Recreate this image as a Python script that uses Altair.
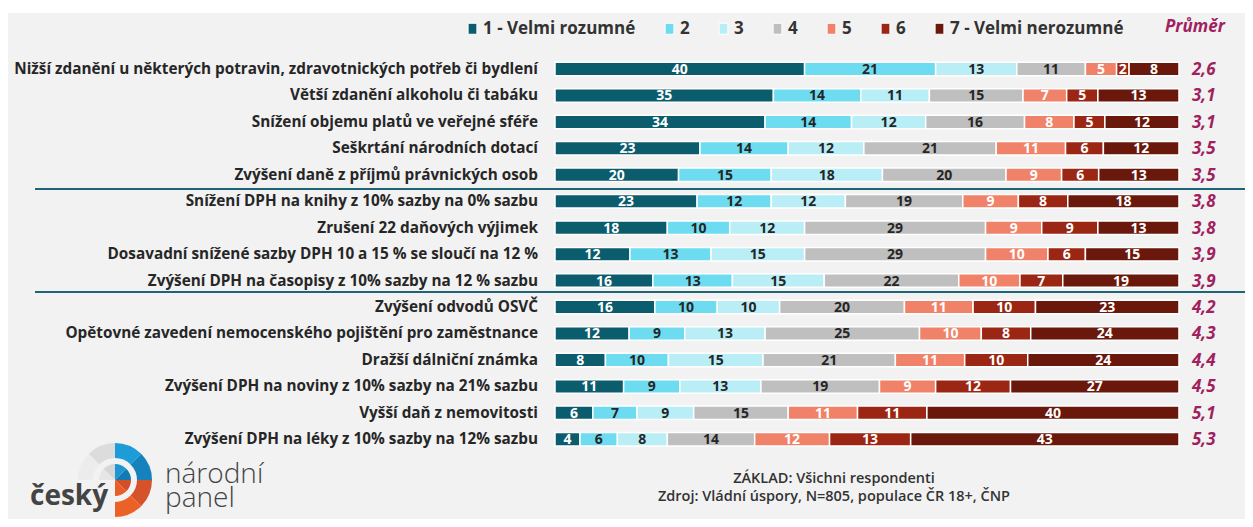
import math
import altair as alt
import pandas as pd

# ---------------- data ----------------
labels = [
    "Nižší zdanění u některých potravin, zdravotnických potřeb či bydlení",
    "Větší zdanění alkoholu či tabáku",
    "Snížení objemu platů ve veřejné sféře",
    "Seškrtání národních dotací",
    "Zvýšení daně z příjmů právnických osob",
    "Snížení DPH na knihy z 10% sazby na 0% sazbu",
    "Zrušení 22 daňových výjimek",
    "Dosavadní snížené sazby DPH 10 a 15 % se sloučí na 12 %",
    "Zvýšení DPH na časopisy z 10% sazby na 12 % sazbu",
    "Zvýšení odvodů OSVČ",
    "Opětovné zavedení nemocenského pojištění pro zaměstnance",
    "Dražší dálniční známka",
    "Zvýšení DPH na noviny z 10% sazby na 21% sazbu",
    "Vyšší daň z nemovitosti",
    "Zvýšení DPH na léky z 10% sazby na 12% sazbu",
]
categories = ["1 - Velmi rozumné", "2", "3", "4", "5", "6", "7 - Velmi nerozumné"]
v1 = [40, 35, 34, 23, 20, 23, 18, 12, 16, 16, 12, 8, 11, 6, 4]
v2 = [21, 14, 14, 14, 15, 12, 10, 13, 13, 10, 9, 10, 9, 7, 6]
v3 = [13, 11, 12, 12, 18, 12, 12, 15, 15, 10, 13, 15, 13, 9, 8]
v4 = [11, 15, 16, 21, 20, 19, 29, 29, 22, 20, 25, 21, 19, 15, 14]
v5 = [5, 7, 8, 11, 9, 9, 9, 10, 10, 11, 10, 11, 9, 11, 12]
v6 = [2, 5, 5, 6, 6, 8, 9, 6, 7, 10, 8, 10, 12, 11, 13]
v7 = [8, 13, 12, 12, 13, 18, 13, 15, 19, 23, 24, 24, 27, 40, 43]
means = [2.6, 3.1, 3.1, 3.5, 3.5, 3.8, 3.8, 3.9, 3.9, 4.2, 4.3, 4.4, 4.5, 5.1, 5.3]

colors = ["#0b5c6c", "#6edcf0", "#b9eef7", "#bfbfbf", "#f08269", "#9b2613", "#69180b"]
text_colors = ["#ffffff", "#262626", "#262626", "#262626", "#ffffff", "#ffffff", "#ffffff"]

series = [v1, v2, v3, v4, v5, v6, v7]
rows = []
for ci, (cat, vals) in enumerate(zip(categories, series)):
    for lab, v in zip(labels, vals):
        rows.append({"label": lab, "cat": cat, "order": ci, "value": v,
                     "tc": text_colors[ci]})
df = pd.DataFrame(rows)
df_rows = pd.DataFrame({"label": labels, "mean": means})
one = pd.DataFrame({"a": [0]})

FONT = "Open Sans"
MEAN_COLOR = "#a0215d"
W, H = 1237, 511

yenc = alt.Y("label:N", sort=labels, axis=None,
             scale=alt.Scale(range=[47.8, 444.5], paddingInner=0.49, paddingOuter=0.245))
xscale = alt.Scale(domain=[0, 1], range=[547, 1171])

base = alt.Chart(df).transform_stack(
    stack="value", as_=["x0", "x1"], groupby=["label"],
    sort=[alt.SortField("order", order="ascending")], offset="normalize"
).transform_calculate(mid="(datum.x0 + datum.x1) / 2")

bg = alt.Chart(one).mark_rect(color="#f2f2f2").encode(
    x=alt.value(0), x2=alt.value(W), y=alt.value(5), y2=alt.value(H))

bars = base.mark_bar(stroke="white", strokeWidth=1.5).encode(
    x=alt.X("x0:Q", scale=xscale, axis=None),
    x2="x1:Q",
    y=yenc,
    color=alt.Color("cat:N", scale=alt.Scale(domain=categories, range=colors),
                    legend=alt.Legend(title=None, orient="none", direction="horizontal",
                                      columns=7, legendX=456, legendY=12)),
)

vals_txt = base.mark_text(font=FONT, fontWeight="bold", fontSize=14, baseline="middle", dy=1).encode(
    x=alt.X("mid:Q", scale=xscale, axis=None),
    y=yenc,
    text="value:Q",
    color=alt.Color("tc:N", scale=None),
)

row_txt = alt.Chart(df_rows).mark_text(font=FONT, fontWeight="bold", fontSize=15.3, align="right",
                                       baseline="middle", color="#262626").encode(
    x=alt.value(530), y=yenc, text="label:N")

mean_txt = alt.Chart(df_rows).transform_calculate(
    m="replace(format(datum.mean, '.1f'), '.', ',')"
).mark_text(font=FONT, fontWeight="bold", fontStyle="italic", fontSize=17, align="left",
            baseline="middle", color=MEAN_COLOR, dy=1).encode(
    x=alt.value(1184), y=yenc, text="m:N")

hdr = alt.Chart(one).mark_text(text="Průměr", font=FONT, fontWeight="bold", fontStyle="italic",
                               fontSize=17, align="left", baseline="middle", color=MEAN_COLOR).encode(
    x=alt.value(1157), y=alt.value(19))

seps = [
    alt.Chart(one).mark_rule(color="#1d6576", strokeWidth=2).encode(
        x=alt.value(27), x2=alt.value(W), y=alt.value(yy))
    for yy in (181, 284)
]

foot1 = alt.Chart(one).mark_text(text="ZÁKLAD: Všichni respondenti", font=FONT, fontWeight=600,
                                 fontSize=14.5, align="center", color="#333333").encode(
    x=alt.value(826), y=alt.value(471))
foot2 = alt.Chart(one).mark_text(text="Zdroj: Vládní úspory, N=805, populace ČR 18+, ČNP", font=FONT,
                                 fontWeight=600, fontSize=14.5, align="center", color="#333333").encode(
    x=alt.value(826), y=alt.value(489))

# logo
cx, cy = 107, 472
P = math.pi
arc_specs = [
    (1.5 * P, 1.75 * P, 22, 37, "#ececec"),
    (1.75 * P, 2 * P, 22, 37, "#dcdcdc"),
    (1.5 * P, 1.75 * P, 0, 16, "#e6e6e6"),
    (1.75 * P, 2 * P, 0, 16, "#d6d6d6"),
    (0, 0.25 * P, 22, 37, "#1e9cd7"),
    (0.25 * P, 0.5 * P, 22, 37, "#1582bd"),
    (0, 0.25 * P, 0, 16, "#1c97d3"),
    (0.25 * P, 0.5 * P, 0, 16, "#147ab3"),
    (0.5 * P, 0.75 * P, 22, 37, "#d5522a"),
    (0.75 * P, P, 22, 37, "#ec6226"),
    (0.5 * P, 0.75 * P, 0, 16, "#d34f29"),
    (0.75 * P, P, 0, 16, "#e95e27"),
]
arcs = [
    alt.Chart(one).mark_arc(theta=t0, theta2=t1, radius=r1, radius2=r0, color=c).encode(
        x=alt.value(cx), y=alt.value(cy))
    for (t0, t1, r0, r1, c) in arc_specs
]
logo_txt = [
    alt.Chart(one).mark_text(text="český", font=FONT, fontWeight="bold", fontSize=28, align="left",
                             baseline="alphabetic", color="#444444").encode(x=alt.value(22), y=alt.value(497)),
    alt.Chart(one).mark_text(text="národní", font=FONT, fontWeight=300, fontSize=28, align="left",
                             baseline="alphabetic", color="#444444").encode(x=alt.value(157), y=alt.value(475)),
    alt.Chart(one).mark_text(text="panel", font=FONT, fontWeight=300, fontSize=28, align="left",
                             baseline="alphabetic", color="#444444").encode(x=alt.value(157), y=alt.value(499)),
]

chart = alt.layer(bg, *seps, bars, vals_txt, row_txt, mean_txt, hdr, foot1, foot2, *arcs, *logo_txt).properties(
    width=W, height=H, padding=0, autosize=alt.AutoSizeParams(type="none"), background="white"
).configure_view(stroke=None).configure_legend(
    labelFont=FONT, labelFontSize=17, labelFontWeight="bold", labelColor="#333333", labelLimit=400,
    symbolType="M-0.8,-1H0.8V1H-0.8Z", symbolSize=121, symbolStrokeColor="white",
    symbolStrokeWidth=1, symbolOpacity=1, columnPadding=25, labelOffset=2, padding=0,
)

chart.save("out.html", embed_options={"renderer": "svg", "actions": False})
